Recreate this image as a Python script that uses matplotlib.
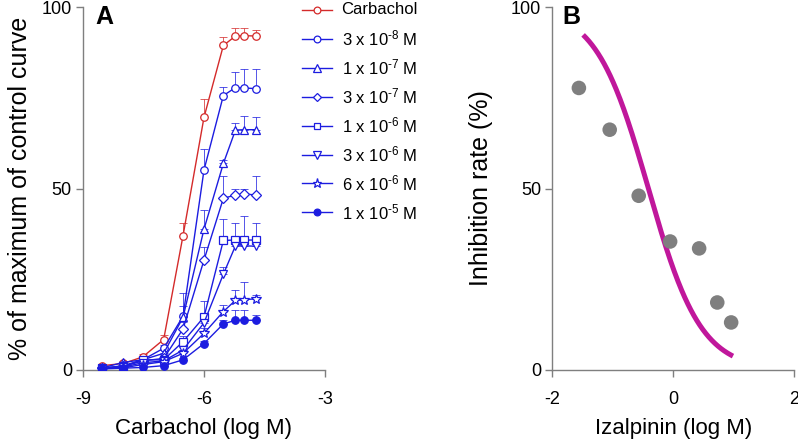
import numpy as np
import matplotlib
matplotlib.use("Agg")
import matplotlib.pyplot as plt
from matplotlib.lines import Line2D

plt.rcParams['font.family'] = ['Liberation Sans', 'DejaVu Sans']
plt.rcParams['mathtext.fontset'] = 'custom'
plt.rcParams['mathtext.rm'] = 'Liberation Sans'
plt.rcParams['mathtext.it'] = 'Liberation Sans:italic'
plt.rcParams['mathtext.bf'] = 'Liberation Sans:bold'
plt.rcParams['axes.unicode_minus'] = False

# ---------------- Data: panel A ----------------
log_carbachol = [-8.52, -8.0, -7.52, -7.0, -6.52, -6.0, -5.52, -5.22, -5.0, -4.7]

carbachol     = [1.2, 1.8, 3.6, 8.4, 37.0, 69.6, 89.4, 92.0, 92.1, 92.0]
carbachol_err = [0.4, 0.5, 0.8, 1.2, 3.4, 5.1, 2.3, 2.3, 2.2, 1.8]

iz_3e8     = [0.5, 1.2, 2.8, 6.0, 14.8, 55.1, 75.6, 77.8, 77.7, 77.5]
iz_3e8_err = [0.3, 0.5, 0.8, 1.0, 6.3, 5.7, 2.3, 4.4, 5.1, 5.3]

iz_1e7     = [0.6, 2.1, 2.8, 4.6, 14.5, 38.8, 56.9, 66.1, 66.2, 66.2]
iz_1e7_err = [0.3, 0.5, 0.8, 1.0, 3.0, 5.2, 1.0, 1.9, 3.8, 3.4]

iz_3e7     = [0.5, 1.0, 2.5, 3.2, 11.3, 30.3, 47.3, 48.2, 48.5, 48.2]
iz_3e7_err = [0.3, 0.4, 0.6, 0.8, 2.0, 3.7, 6.2, 1.8, 1.5, 5.2]

iz_1e6     = [0.5, 1.0, 2.8, 2.8, 7.8, 14.6, 35.7, 35.8, 35.8, 35.8]
iz_1e6_err = [0.3, 0.4, 0.5, 0.6, 1.5, 4.3, 6.0, 4.6, 6.5, 4.6]

iz_3e6     = [0.4, 0.8, 2.0, 2.5, 5.5, 13.0, 26.4, 34.2, 34.2, 34.1]
iz_3e6_err = [0.2, 0.3, 0.4, 0.5, 1.0, 2.5, 2.0, 2.0, 2.0, 2.0]

iz_6e6     = [0.4, 0.6, 1.5, 2.3, 4.6, 10.1, 16.1, 19.2, 19.4, 19.6]
iz_6e6_err = [0.2, 0.3, 0.4, 0.5, 1.0, 1.5, 1.8, 2.8, 4.9, 1.0]

iz_1e5     = [0.3, 0.5, 0.7, 1.2, 2.8, 7.3, 12.7, 13.7, 13.7, 13.7]
iz_1e5_err = [0.2, 0.2, 0.3, 0.3, 0.5, 0.8, 1.0, 2.8, 2.8, 1.5]

legend_labels = ["Carbachol",
                 "3 x 10$^{\\mathregular{\u20108}}$ M",
                 "1 x 10$^{\\mathregular{\u20107}}$ M",
                 "3 x 10$^{\\mathregular{\u20107}}$ M",
                 "1 x 10$^{\\mathregular{\u20106}}$ M",
                 "3 x 10$^{\\mathregular{\u20106}}$ M",
                 "6 x 10$^{\\mathregular{\u20106}}$ M",
                 "1 x 10$^{\\mathregular{\u20105}}$ M"]

# ---------------- Data: panel B ----------------
log_izalpinin = [-1.56, -1.05, -0.57, -0.05, 0.43, 0.73, 0.96]
inhibition    = [77.7, 66.2, 48.0, 35.4, 33.5, 18.6, 13.1]
fit_top, fit_bottom, fit_logic50, fit_hill = 100.0, 0.0, -0.41, 1.0
fit_xmin, fit_xmax = -1.49, 0.99

RED = '#d42a2a'
BLUE = '#1c1ce0'
GRAY = '#7f7f7f'
MAGENTA = '#c0179b'

fig = plt.figure(figsize=(7.98, 4.42), dpi=100)
W, H = 798.0, 442.0
axA = fig.add_axes([83 / W, 1 - 370 / H, 242 / W, 363 / H])
axB = fig.add_axes([552.3 / W, 1 - 370 / H, 241.7 / W, 363 / H])

series = [
    (carbachol, carbachol_err, RED, 'o', 'none'),
    (iz_3e8, iz_3e8_err, BLUE, 'o', 'white'),
    (iz_1e7, iz_1e7_err, BLUE, '^', 'white'),
    (iz_3e7, iz_3e7_err, BLUE, 'D', 'white'),
    (iz_1e6, iz_1e6_err, BLUE, 's', 'white'),
    (iz_3e6, iz_3e6_err, BLUE, 'v', 'white'),
    (iz_6e6, iz_6e6_err, BLUE, '*', 'white'),
    (iz_1e5, iz_1e5_err, BLUE, 'o', BLUE),
]
msizes = {'o': 5.4, '^': 6.2, 'D': 4.6, 's': 5.4, 'v': 6.2, '*': 7.5}

for vals, errs, col, mk, fc in series:
    vals = np.array(vals)
    errs = np.array(errs)
    axA.errorbar(log_carbachol, vals, yerr=[np.zeros_like(errs), errs],
                 fmt='none', ecolor=col, elinewidth=0.7, capsize=3.0,
                 capthick=0.7, alpha=0.75, zorder=2)
    axA.plot(log_carbachol, vals, color=col, lw=1.0, marker=mk,
             ms=msizes[mk], mfc=fc if fc != 'none' else 'white', mec=col,
             mew=0.9, zorder=3)

axA.set_xlim(-9, -3)
axA.set_ylim(0, 100)
axA.set_xticks([-9, -6, -3])
axA.set_yticks([0, 50, 100])
axA.set_xlabel("Carbachol (log M)", fontsize=16, labelpad=7)
axA.set_ylabel("% of maximum of control curve", fontsize=18, labelpad=7)

# Panel B
axB.scatter(log_izalpinin, inhibition, s=110, color=GRAY, edgecolors='none', zorder=3)
xfit = np.linspace(fit_xmin, fit_xmax, 200)
yfit = fit_bottom + (fit_top - fit_bottom) / (1 + 10 ** ((xfit - fit_logic50) * fit_hill))
axB.plot(xfit, yfit, color=MAGENTA, lw=3.6, solid_capstyle='butt', zorder=2)
axB.set_xlim(-2, 2)
axB.set_ylim(0, 100)
axB.set_xticks([-2, 0, 2])
axB.set_yticks([0, 50, 100])
axB.set_xlabel("Izalpinin (log M)", fontsize=16, labelpad=7)
axB.set_ylabel("Inhibition rate (%)", fontsize=18, labelpad=13)

for ax in (axA, axB):
    for s in ('top', 'right'):
        ax.spines[s].set_visible(False)
    for s in ('left', 'bottom'):
        ax.spines[s].set_color(GRAY)
        ax.spines[s].set_linewidth(1.0)
    ax.tick_params(axis='both', colors=GRAY, labelcolor='black', labelsize=13,
                   length=5, width=1.0, direction='out')
    ax.tick_params(axis='x', pad=10)
    ax.tick_params(axis='y', pad=3)
    for sp in ax.spines.values():
        sp.set_clip_on(False)

fig.text(95 / W, 1 - 17 / H, "A", fontsize=18, fontweight='bold', va='center', ha='left')
fig.text(562 / W, 1 - 17 / H, "B", fontsize=18, fontweight='bold', va='center', ha='left')

# Legend (manual placement)
leg_y0, leg_dy = 10.0, 28.9
for i, (lab, (vals, errs, col, mk, fc)) in enumerate(zip(legend_labels, series)):
    y = 1 - (leg_y0 + i * leg_dy) / H
    fig.add_artist(Line2D([302 / W, 332 / W], [y, y], transform=fig.transFigure,
                          color=col, lw=1.0))
    fig.add_artist(Line2D([317 / W], [y], transform=fig.transFigure, marker=mk,
                          ms=msizes[mk] * 0.9, mfc=fc if fc != 'none' else 'white',
                          mec=col, mew=0.9, color=col))
    fig.text(341.5 / W, y, lab, fontsize=12, va='center', ha='left')

fig.savefig("out.png", dpi=100)
